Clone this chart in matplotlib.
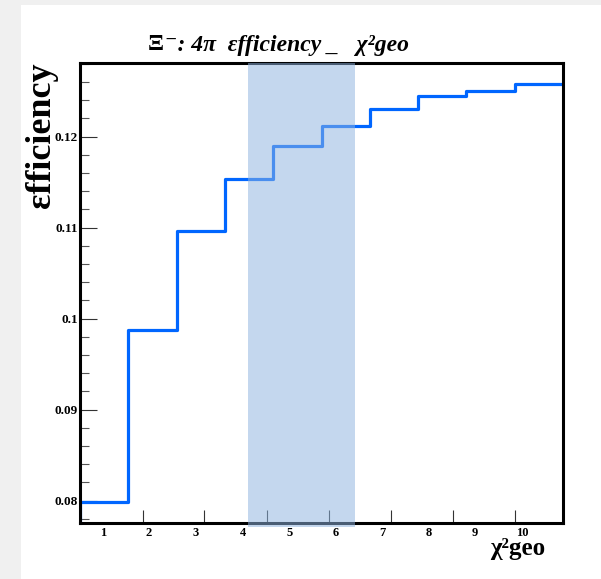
#!/usr/bin/env python3
#
# Xi- 4pi efficiency versus chi2geo cut, drawn as a step histogram
#
import numpy as np
import matplotlib
matplotlib.use('Agg')
import matplotlib.pyplot as plt
from matplotlib.patches import Rectangle
import matplotlib.transforms as mtransforms

# Bin edges (10 bins) and efficiency per bin
bin_edges = [0, 1, 2, 3, 4, 5, 6, 7, 8, 9, 10]
efficiency = [0.0799, 0.0988, 0.1096, 0.1153, 0.1190,
              0.1212, 0.1230, 0.1245, 0.1250, 0.1258]

# Bin labels as shown under the axis, and their positions
bin_labels = ['1', '2', '3', '4', '5', '6', '7', '8', '9', '10']
bin_label_pos = [0.48, 1.43, 2.40, 3.38, 4.33, 5.30, 6.27, 7.23, 8.18, 9.15]

# Tick marks along x (unlabelled)
x_tick_pos = [1.30, 2.57, 3.87, 5.15, 6.44, 7.72, 9.01]

# Highlighted range
band = (3.48, 5.69)

y_lim = (0.07758, 0.12813)
y_major = [0.08, 0.09, 0.10, 0.11, 0.12]
y_major_labels = ['0.08', '0.09', '0.1', '0.11', '0.12']

serif = ['Liberation Serif', 'DejaVu Serif']

W, H = 601, 579
fig = plt.figure(figsize=(W / 100, H / 100), dpi=100)
fig.patch.set_facecolor('#f0f0f0')
fig.patches.append(Rectangle((21 / W, 0), 1 - 21 / W, 1 - 5 / H,
                             transform=fig.transFigure, facecolor='white',
                             edgecolor='none', zorder=-10))

ax = fig.add_axes([80 / W, 1 - 522.7 / H, 483 / W, 460 / H])
ax.set_zorder(1)
ax.set_xlim(bin_edges[0], bin_edges[-1])
ax.set_ylim(*y_lim)

# Step histogram, starting from the bottom of the frame
edges = np.array(bin_edges, dtype=float)
vals = np.array(efficiency)
xs = np.concatenate([[edges[0]], edges])
ys = np.concatenate([[y_lim[0]], vals, [vals[-1]]])
ax.step(xs, ys, where='post', color='#0066ff', lw=2.3, zorder=2)

# Shaded band (drawn over the frame, like the reference)
trans = mtransforms.blended_transform_factory(ax.transData, ax.transAxes)
ax.add_patch(Rectangle((band[0], -0.01), band[1] - band[0], 1.01,
                       transform=trans, facecolor='#8fb4e0', alpha=0.52,
                       edgecolor='none', zorder=3, clip_on=False))

for s in ax.spines.values():
    s.set_linewidth(2.2)
    s.set_color('black')

# y axis ticks
ax.set_yticks(y_major)
ax.set_yticklabels(y_major_labels, family=serif, fontweight='bold',
                   fontsize=9.5)
ax.set_yticks(np.arange(0.078, 0.1281, 0.002), minor=True)
ax.tick_params(axis='y', which='major', direction='in', length=12,
               width=0.8, color='#333333', pad=1.5, right=False)
ax.tick_params(axis='y', which='minor', direction='in', length=6.5,
               width=0.8, color='#555555', right=False)

# x axis ticks (no labels) plus separate bin labels
ax.set_xticks(x_tick_pos)
ax.set_xticklabels([])
ax.tick_params(axis='x', which='major', direction='in', length=9.5,
               width=0.8, color='#333333', top=False)
for pos, lab in zip(bin_label_pos, bin_labels):
    ax.text(pos, -0.022, lab, transform=trans, ha='center', va='center',
            family=serif, fontweight='bold', fontsize=9)

# Titles
fig.text(148 / W, 1 - 45 / H, 'Ξ', ha='left', va='center', family=serif,
         fontweight='bold', fontsize=17)
fig.text(165 / W, 1 - 45 / H, '⁻: 4π  εfficiency _   χ²geo',
         ha='left', va='center', family=serif, fontweight='bold',
         fontstyle='italic', fontsize=17)
fig.text(42 / W, 1 - 62 / H, 'εfficiency', rotation=90, ha='center',
         va='top', family=serif, fontweight='bold', fontsize=26)
fig.text(545 / W, 1 - 548 / H, 'χ²geo', ha='right', va='center',
         family=serif, fontweight='bold', fontsize=18)

fig.savefig('out.png', dpi=100, facecolor=fig.get_facecolor())
